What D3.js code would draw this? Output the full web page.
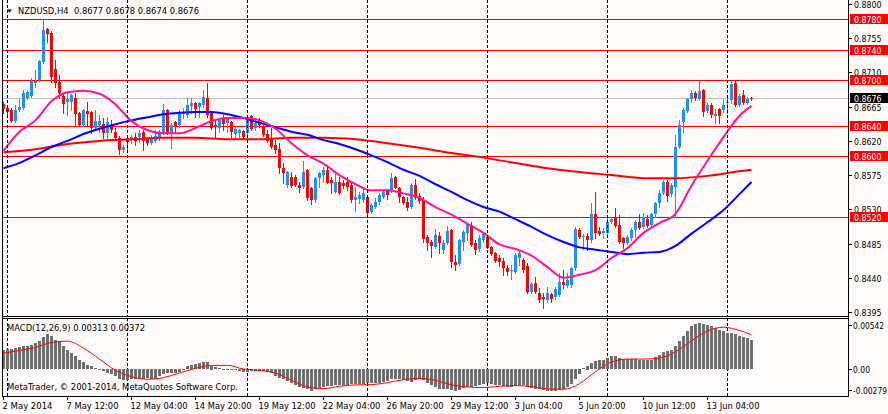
<!DOCTYPE html>
<html><head><meta charset="utf-8">
<script src="https://cdn.jsdelivr.net/npm/d3@7"></script>
<style>
html,body{margin:0;padding:0;background:#fffafa;}
svg{display:block;font-family:"DejaVu Sans","Liberation Sans",Arial,sans-serif;font-size:9px;}
</style></head><body>
<svg id="c" width="888" height="414"></svg>
<script>
// ---------- DATA (NZDUSD H4) ----------
const symbolTitle = "NZDUSD,H4  0.8677 0.8678 0.8674 0.8676";
const opens=[0.8668,0.8663,0.8661,0.8646,0.8661,0.8663,0.8676,0.8679,0.8696,0.8700,
0.8724,0.8767,0.8762,0.8714,0.8697,0.8679,0.8671,0.8671,0.8676,0.8657,
0.8641,0.8659,0.8658,0.8637,0.8641,0.8642,0.8630,0.8641,0.8632,0.8624,
0.8608,0.8624,0.8621,0.8625,0.8625,0.8632,0.8622,0.8617,0.8620,0.8625,
0.8630,0.8661,0.8630,0.8645,0.8641,0.8655,0.8654,0.8666,0.8670,0.8665,
0.8668,0.8676,0.8657,0.8641,0.8636,0.8649,0.8644,0.8645,0.8630,0.8630,
0.8633,0.8630,0.8653,0.8637,0.8647,0.8638,0.8629,0.8624,0.8615,0.8609,
0.8584,0.8562,0.8573,0.8573,0.8562,0.8559,0.8582,0.8558,0.8542,0.8571,
0.8575,0.8582,0.8569,0.8553,0.8566,0.8565,0.8566,0.8562,0.8542,0.8544,
0.8542,0.8546,0.8527,0.8533,0.8540,0.8546,0.8555,0.8555,0.8573,0.8558,
0.8546,0.8540,0.8533,0.8562,0.8548,0.8542,0.8494,0.8487,0.8480,0.8495,
0.8477,0.8486,0.8503,0.8461,0.8459,0.8487,0.8499,0.8509,0.8486,0.8477,
0.8490,0.8494,0.8480,0.8473,0.8466,0.8462,0.8453,0.8449,0.8448,0.8466,
0.8463,0.8455,0.8421,0.8433,0.8420,0.8415,0.8411,0.8419,0.8415,0.8417,
0.8434,0.8429,0.8430,0.8453,0.8503,0.8494,0.8495,0.8490,0.8524,0.8502,
0.8500,0.8499,0.8513,0.8519,0.8509,0.8492,0.8486,0.8492,0.8503,0.8513,
0.8507,0.8517,0.8509,0.8523,0.8538,0.8551,0.8566,0.8550,0.8559,0.8612,
0.8645,0.8659,0.8675,0.8683,0.8675,0.8687,0.8659,0.8667,0.8653,0.8662,
0.8661,0.8670,0.8674,0.8696,0.8667,0.8680,0.8670,0.8677];
const highs=[0.8671,0.8666,0.8663,0.8667,0.8675,0.8687,0.8687,0.8703,0.8713,0.8726,
0.8779,0.8768,0.8764,0.8726,0.8707,0.8683,0.8683,0.8682,0.8683,0.8658,
0.8662,0.8671,0.8659,0.8661,0.8654,0.8650,0.8651,0.8647,0.8637,0.8626,
0.8615,0.8628,0.8628,0.8630,0.8634,0.8634,0.8625,0.8628,0.8634,0.8634,
0.8668,0.8662,0.8644,0.8646,0.8661,0.8663,0.8676,0.8676,0.8671,0.8671,
0.8687,0.8696,0.8658,0.8649,0.8649,0.8654,0.8651,0.8646,0.8638,0.8636,
0.8634,0.8654,0.8654,0.8650,0.8650,0.8641,0.8634,0.8637,0.8621,0.8617,
0.8591,0.8580,0.8579,0.8575,0.8566,0.8594,0.8583,0.8559,0.8573,0.8579,
0.8586,0.8586,0.8573,0.8579,0.8573,0.8569,0.8573,0.8565,0.8559,0.8553,
0.8559,0.8549,0.8538,0.8545,0.8551,0.8555,0.8557,0.8578,0.8574,0.8559,
0.8548,0.8546,0.8565,0.8570,0.8551,0.8546,0.8496,0.8490,0.8504,0.8500,
0.8490,0.8508,0.8504,0.8470,0.8491,0.8503,0.8512,0.8513,0.8490,0.8496,
0.8500,0.8495,0.8482,0.8474,0.8470,0.8466,0.8457,0.8457,0.8473,0.8477,
0.8466,0.8459,0.8434,0.8441,0.8427,0.8420,0.8428,0.8420,0.8428,0.8446,
0.8450,0.8446,0.8454,0.8507,0.8505,0.8498,0.8499,0.8538,0.8553,0.8507,
0.8505,0.8519,0.8520,0.8532,0.8523,0.8494,0.8496,0.8505,0.8516,0.8524,
0.8525,0.8523,0.8525,0.8540,0.8555,0.8569,0.8569,0.8565,0.8628,0.8647,
0.8663,0.8676,0.8687,0.8686,0.8699,0.8688,0.8670,0.8670,0.8662,0.8663,
0.8675,0.8676,0.8697,0.8699,0.8682,0.8687,0.8678,0.8678];
const lows=[0.8657,0.8654,0.8645,0.8645,0.8659,0.8662,0.8675,0.8678,0.8691,0.8699,
0.8722,0.8750,0.8697,0.8691,0.8676,0.8657,0.8654,0.8661,0.8641,0.8640,
0.8640,0.8641,0.8630,0.8634,0.8632,0.8624,0.8624,0.8632,0.8621,0.8603,
0.8605,0.8605,0.8617,0.8615,0.8619,0.8608,0.8615,0.8616,0.8619,0.8621,
0.8629,0.8629,0.8611,0.8630,0.8638,0.8650,0.8651,0.8657,0.8651,0.8651,
0.8665,0.8651,0.8636,0.8625,0.8632,0.8634,0.8632,0.8625,0.8624,0.8625,
0.8624,0.8625,0.8634,0.8634,0.8638,0.8626,0.8619,0.8611,0.8604,0.8578,
0.8565,0.8559,0.8559,0.8561,0.8553,0.8558,0.8542,0.8537,0.8540,0.8559,
0.8566,0.8565,0.8551,0.8551,0.8550,0.8558,0.8555,0.8540,0.8528,0.8538,
0.8540,0.8523,0.8525,0.8532,0.8537,0.8545,0.8544,0.8553,0.8558,0.8540,
0.8537,0.8529,0.8532,0.8544,0.8538,0.8487,0.8477,0.8467,0.8479,0.8473,
0.8473,0.8484,0.8454,0.8450,0.8457,0.8477,0.8490,0.8482,0.8471,0.8475,
0.8487,0.8479,0.8470,0.8461,0.8455,0.8444,0.8444,0.8438,0.8446,0.8457,
0.8448,0.8420,0.8420,0.8420,0.8408,0.8400,0.8408,0.8408,0.8412,0.8416,
0.8427,0.8428,0.8428,0.8450,0.8492,0.8478,0.8477,0.8487,0.8492,0.8496,
0.8492,0.8496,0.8512,0.8507,0.8486,0.8479,0.8484,0.8490,0.8494,0.8504,
0.8505,0.8507,0.8507,0.8520,0.8533,0.8550,0.8541,0.8548,0.8520,0.8611,
0.8632,0.8658,0.8671,0.8674,0.8674,0.8653,0.8658,0.8651,0.8644,0.8644,
0.8658,0.8657,0.8670,0.8666,0.8666,0.8668,0.8668,0.8674];
const closes=[0.8661,0.8658,0.8646,0.8661,0.8665,0.8683,0.8684,0.8699,0.8699,0.8725,
0.8766,0.8761,0.8704,0.8696,0.8683,0.8668,0.8675,0.8680,0.8655,0.8641,
0.8661,0.8655,0.8637,0.8646,0.8646,0.8630,0.8645,0.8634,0.8624,0.8608,
0.8612,0.8619,0.8625,0.8620,0.8630,0.8620,0.8617,0.8622,0.8626,0.8630,
0.8661,0.8630,0.8641,0.8640,0.8657,0.8658,0.8667,0.8670,0.8662,0.8670,
0.8678,0.8653,0.8637,0.8638,0.8647,0.8642,0.8649,0.8632,0.8636,0.8634,
0.8625,0.8647,0.8636,0.8644,0.8641,0.8628,0.8620,0.8612,0.8608,0.8584,
0.8578,0.8579,0.8561,0.8562,0.8558,0.8579,0.8545,0.8542,0.8571,0.8578,
0.8582,0.8565,0.8565,0.8566,0.8551,0.8561,0.8559,0.8542,0.8546,0.8549,
0.8551,0.8525,0.8536,0.8540,0.8549,0.8553,0.8548,0.8571,0.8559,0.8546,
0.8538,0.8532,0.8562,0.8545,0.8541,0.8491,0.8486,0.8482,0.8496,0.8486,
0.8486,0.8502,0.8461,0.8457,0.8490,0.8500,0.8511,0.8483,0.8477,0.8492,
0.8498,0.8480,0.8471,0.8463,0.8461,0.8453,0.8448,0.8450,0.8470,0.8473,
0.8450,0.8421,0.8432,0.8421,0.8411,0.8412,0.8420,0.8413,0.8425,0.8434,
0.8430,0.8437,0.8453,0.8504,0.8494,0.8495,0.8490,0.8524,0.8499,0.8498,
0.8502,0.8513,0.8517,0.8509,0.8487,0.8486,0.8494,0.8503,0.8513,0.8505,
0.8520,0.8508,0.8524,0.8538,0.8551,0.8566,0.8548,0.8562,0.8612,0.8641,
0.8661,0.8675,0.8683,0.8676,0.8686,0.8658,0.8667,0.8654,0.8655,0.8653,
0.8667,0.8671,0.8695,0.8667,0.8679,0.8670,0.8675,0.8676];

// moving averages read at every 4th bar (fast, mid) and every 8th bar (slow), plus the last bar
const maFast=[0.8607,0.8632,0.8647,0.8672,0.8684,0.8686,0.8682,0.8668,0.8646,0.8634,0.8630,0.8630,
0.8637,0.8646,0.8650,0.8650,0.8647,0.8636,0.8617,0.8601,0.8590,0.8575,0.8563,0.8555,
0.8555,0.8551,0.8545,0.8533,0.8523,0.8511,0.8499,0.8484,0.8478,0.8469,0.8454,0.8440,
0.8444,0.8450,0.8466,0.8479,0.8499,0.8512,0.8524,0.8561,0.8594,0.8625,0.8653,0.8666];
const maMid=[0.8584,0.8591,0.8601,0.8612,0.8620,0.8629,0.8636,0.8642,0.8647,0.8651,0.8655,0.8657,
0.8658,0.8658,0.8655,0.8650,0.8644,0.8638,0.8632,0.8628,0.8621,0.8616,0.8609,0.8601,
0.8592,0.8582,0.8574,0.8563,0.8553,0.8542,0.8533,0.8527,0.8517,0.8507,0.8496,0.8487,
0.8480,0.8477,0.8474,0.8471,0.8473,0.8474,0.8482,0.8498,0.8513,0.8529,0.8550,0.8566];
const maSlow=[0.8605,0.8609,0.8616,0.8620,0.8622,0.8624,0.8624,0.8622,0.8622,0.8624,0.8624,0.8622,
0.8617,0.8611,0.8604,0.8598,0.8591,0.8584,0.8579,0.8575,0.8571,0.8571,0.8574,0.8580,0.8582];

// MACD(12,26,9) histogram per bar and signal read at every 4th bar plus the last
const macdHist=[0.00210,0.00217,0.00217,0.00228,0.00238,0.00246,0.00253,0.00263,0.00281,0.00299,
0.00346,0.00382,0.00353,0.00317,0.00299,0.00253,0.00210,0.00174,0.00138,0.00102,
0.00073,0.00048,0.00030,0.00009,0.00002,-0.00023,-0.00048,-0.00059,-0.00077,-0.00106,
-0.00120,-0.00120,-0.00113,-0.00106,-0.00113,-0.00106,-0.00095,-0.00113,-0.00106,-0.00077,
-0.00059,-0.00048,-0.00048,-0.00041,-0.00034,-0.00013,0.00030,0.00048,0.00059,0.00066,
0.00073,0.00073,0.00038,0.00023,0.00013,0.00002,-0.00005,-0.00009,-0.00016,-0.00023,
-0.00034,-0.00034,-0.00023,-0.00023,-0.00023,-0.00027,-0.00034,-0.00048,-0.00077,-0.00095,
-0.00113,-0.00131,-0.00156,-0.00177,-0.00192,-0.00202,-0.00220,-0.00238,-0.00213,-0.00202,
-0.00192,-0.00185,-0.00185,-0.00177,-0.00177,-0.00170,-0.00170,-0.00167,-0.00167,-0.00167,
-0.00167,-0.00156,-0.00156,-0.00156,-0.00149,-0.00142,-0.00131,-0.00113,-0.00106,-0.00113,
-0.00120,-0.00131,-0.00142,-0.00120,-0.00106,-0.00120,-0.00149,-0.00177,-0.00192,-0.00213,
-0.00213,-0.00220,-0.00228,-0.00238,-0.00228,-0.00202,-0.00192,-0.00192,-0.00185,-0.00177,
-0.00167,-0.00156,-0.00167,-0.00177,-0.00177,-0.00185,-0.00192,-0.00192,-0.00185,-0.00177,
-0.00177,-0.00192,-0.00202,-0.00213,-0.00220,-0.00228,-0.00238,-0.00238,-0.00238,-0.00228,
-0.00213,-0.00192,-0.00167,-0.00113,-0.00059,0.00013,0.00038,0.00066,0.00084,0.00095,
0.00102,0.00120,0.00138,0.00145,0.00120,0.00109,0.00109,0.00109,0.00109,0.00102,
0.00102,0.00102,0.00102,0.00131,0.00156,0.00181,0.00192,0.00203,0.00246,0.00299,
0.00353,0.00407,0.00461,0.00489,0.00496,0.00489,0.00478,0.00461,0.00443,0.00418,
0.00407,0.00396,0.00389,0.00382,0.00360,0.00346,0.00335,0.00313];
const macdSignal=[0.00174,0.00203,0.00235,0.00289,0.00303,0.00228,0.00109,-0.00013,-0.00081,-0.00109,
-0.00091,-0.00041,0.00009,0.00041,0.00041,0.00002,-0.00013,-0.00041,-0.00120,-0.00192,
-0.00210,-0.00185,-0.00170,-0.00167,-0.00145,-0.00113,-0.00099,-0.00120,-0.00170,-0.00192,
-0.00199,-0.00185,-0.00177,-0.00188,-0.00213,-0.00217,-0.00156,-0.00027,0.00077,0.00109,
0.00109,0.00120,0.00188,0.00306,0.00414,0.00453,0.00418,0.00372];

const hLevels=[0.8780,0.8740,0.8700,0.8640,0.8600,0.8520];
const bidPrice=0.8676;
const priceTicks=[0.8800,0.8755,0.8710,0.8665,0.8620,0.8575,0.8530,0.8485,0.8440,0.8395];
const macdTicks=[0.00542,0,-0.00279];
const macdTickText=["0.00542","0.00","-0.00279"];
const separatorBars=[1,31,61,91,121,151,181];
const timeBars=[0,16,32,48,64,80,96,112,128,144,160,176];
const timeLabels=["2 May 2014","7 May 12:00","12 May 04:00","14 May 20:00","19 May 12:00","22 May 04:00",
"26 May 20:00","29 May 12:00","3 Jun 04:00","5 Jun 20:00","10 Jun 12:00","13 Jun 04:00"];

// ---------- DRAW ----------
const BG="#fffafa", BULL="#1e90ff", BEAR="#ff0000";
const svg=d3.select("#c");
svg.append("rect").attr("width",888).attr("height",414).attr("fill",BG);

// text helper: fits a label to the width the terminal font gives it
function label(g,str,tx,ty,w,fill){
  const t=g.append("text").attr("x",tx).attr("y",ty).attr("fill",fill||"#000")
    .attr("xml:space","preserve").style("white-space","pre").text(str);
  if(w) t.attr("textLength",w).attr("lengthAdjust","spacingAndGlyphs");
  return t;
}

const n=opens.length;
const x=d3.scaleLinear().domain([0,n-1]).range([3.5,3.5+4*(n-1)]);
const y=d3.scaleLinear().domain([0.8395,0.8800]).range([312,4]);
const ym=d3.scaleLinear().domain([-0.00279,0.00542]).range([395,319]);

const defs=svg.append("defs");
defs.append("clipPath").attr("id","cm").append("rect").attr("x",2).attr("y",0).attr("width",846).attr("height",316);
defs.append("clipPath").attr("id","cd").append("rect").attr("x",2).attr("y",319).attr("width",846).attr("height",77);

const main=svg.append("g").attr("clip-path","url(#cm)");
const crisp=main.append("g").attr("shape-rendering","crispEdges");

// bid line & horizontal levels
crisp.append("line").attr("x1",2).attr("x2",848).attr("y1",Math.round(y(bidPrice))+0.5).attr("y2",Math.round(y(bidPrice))+0.5).attr("stroke","#c0c0c0");
crisp.selectAll("line.lvl").data(hLevels).join("line").attr("class","lvl")
  .attr("x1",2).attr("x2",848).attr("y1",d=>Math.round(y(d))+0.5).attr("y2",d=>Math.round(y(d))+0.5).attr("stroke","#ff0000");

// period separators
[[0,316],[318,396]].forEach(([a,b])=>{
  svg.append("g").attr("shape-rendering","crispEdges").selectAll("line").data(separatorBars).join("line")
    .attr("x1",d=>x(d)).attr("x2",d=>x(d)).attr("y1",a).attr("y2",b)
    .attr("stroke","#000").attr("stroke-dasharray","3,2");
});

// candles
const bars=d3.range(n).map(i=>({i,o:opens[i],h:highs[i],l:lows[i],c:closes[i]}));
const col=d=>d.c>=d.o?BULL:BEAR;
crisp.selectAll("line.wick").data(bars).join("line").attr("class","wick")
  .attr("x1",d=>x(d.i)).attr("x2",d=>x(d.i))
  .attr("y1",d=>Math.round(y(d.h))).attr("y2",d=>Math.round(y(d.l))+1).attr("stroke",col);
crisp.selectAll("rect.body").data(bars).join("rect").attr("class","body")
  .attr("x",d=>x(d.i)-1.5).attr("width",3)
  .attr("y",d=>Math.round(Math.min(y(d.o),y(d.c))))
  .attr("height",d=>Math.max(1,Math.round(Math.abs(y(d.o)-y(d.c)))))
  .attr("fill",col);

// moving averages
const idx4=d3.range(0,n-3,4).concat([n-1]);
const idx8=d3.range(0,n-3,8).concat([n-1]);
const ln=d3.line().curve(d3.curveMonotoneX);
function drawMA(vals,idx,color,w){
  main.append("path").attr("d",ln(vals.map((v,k)=>[x(idx[k]),y(v)])))
    .attr("fill","none").attr("stroke",color).attr("stroke-width",w);
}
drawMA(maSlow,idx8,"#ff0000",2);
drawMA(maMid,idx4,"#0000ff",2);
drawMA(maFast,idx4,"#ff1493",2);

// MACD
const sub=svg.append("g").attr("clip-path","url(#cd)");
sub.append("g").attr("shape-rendering","crispEdges").selectAll("rect").data(macdHist).join("rect")
  .attr("x",(d,i)=>x(i)-1.5).attr("width",3)
  .attr("y",d=>Math.round(Math.min(ym(0),ym(d))))
  .attr("height",d=>Math.max(1,Math.round(Math.abs(ym(d)-ym(0)))))
  .attr("fill","#6e6e6e");
sub.append("path").attr("d",ln(macdSignal.map((v,k)=>[x(idx4[k]),ym(v)])))
  .attr("fill","none").attr("stroke","#ff0000").attr("stroke-width",1);

// frames
const fr=svg.append("g").attr("shape-rendering","crispEdges").attr("stroke","#000");
fr.append("line").attr("x1",2.5).attr("x2",2.5).attr("y1",0).attr("y2",396);
fr.append("line").attr("x1",848.5).attr("x2",848.5).attr("y1",0).attr("y2",397);
fr.append("line").attr("x1",2).attr("x2",849).attr("y1",316.5).attr("y2",316.5);
fr.append("line").attr("x1",2).attr("x2",849).attr("y1",318.5).attr("y2",318.5);
fr.append("line").attr("x1",2).attr("x2",849).attr("y1",396.5).attr("y2",396.5);

// price axis
const pa=svg.append("g");
priceTicks.forEach(v=>{
  const yy=Math.round(y(v));
  pa.append("line").attr("shape-rendering","crispEdges").attr("x1",849).attr("x2",852)
    .attr("y1",yy+0.5).attr("y2",yy+0.5).attr("stroke","#000");
  label(pa,v.toFixed(4),854,yy+3.5,27.5);
});
const lb=svg.append("g");
hLevels.forEach(v=>{
  const yy=Math.round(y(v));
  lb.append("rect").attr("x",850).attr("y",yy-5).attr("width",38).attr("height",10).attr("fill","#ff0000");
  label(lb,v.toFixed(4),854,yy+3.5,27.5,"#fff");
});
{
  const yy=Math.round(y(bidPrice));
  lb.append("rect").attr("x",850).attr("y",yy-5).attr("width",38).attr("height",10).attr("fill","#000");
  label(lb,bidPrice.toFixed(4),854,yy+3.5,27.5,"#fff");
}

// MACD axis
const macdY=[ym(macdTicks[0])+6,ym(macdTicks[1]),ym(macdTicks[2])-5];
const macdW=[31,17,34];
macdTicks.forEach((v,k)=>{
  svg.append("line").attr("shape-rendering","crispEdges").attr("x1",849).attr("x2",852)
    .attr("y1",Math.round(macdY[k])+0.5).attr("y2",Math.round(macdY[k])+0.5).attr("stroke","#000");
  label(svg,macdTickText[k],853,macdY[k]+3.5,macdW[k]);
});

// time axis
const timeW=[50,52,57,57,57,58,57,58,48,47,53,53];
timeBars.forEach((b,k)=>{
  svg.append("line").attr("shape-rendering","crispEdges").attr("x1",x(b)).attr("x2",x(b)).attr("y1",397).attr("y2",400).attr("stroke","#000");
  label(svg,timeLabels[k],x(b)-1,409,timeW[k]);
});

// titles
svg.append("path").attr("d","M7,9.5L12,9.5L9.5,12.5Z").attr("fill","#000");
label(svg,symbolTitle,18,14,181);
label(svg,"MACD(12,26,9) "+macdHist[n-1].toFixed(5)+" "+macdSignal[macdSignal.length-1].toFixed(5),7,331,138);
label(svg,"MetaTrader, © 2001-2014, MetaQuotes Software Corp.",7,390,231);
</script>
</body></html>
